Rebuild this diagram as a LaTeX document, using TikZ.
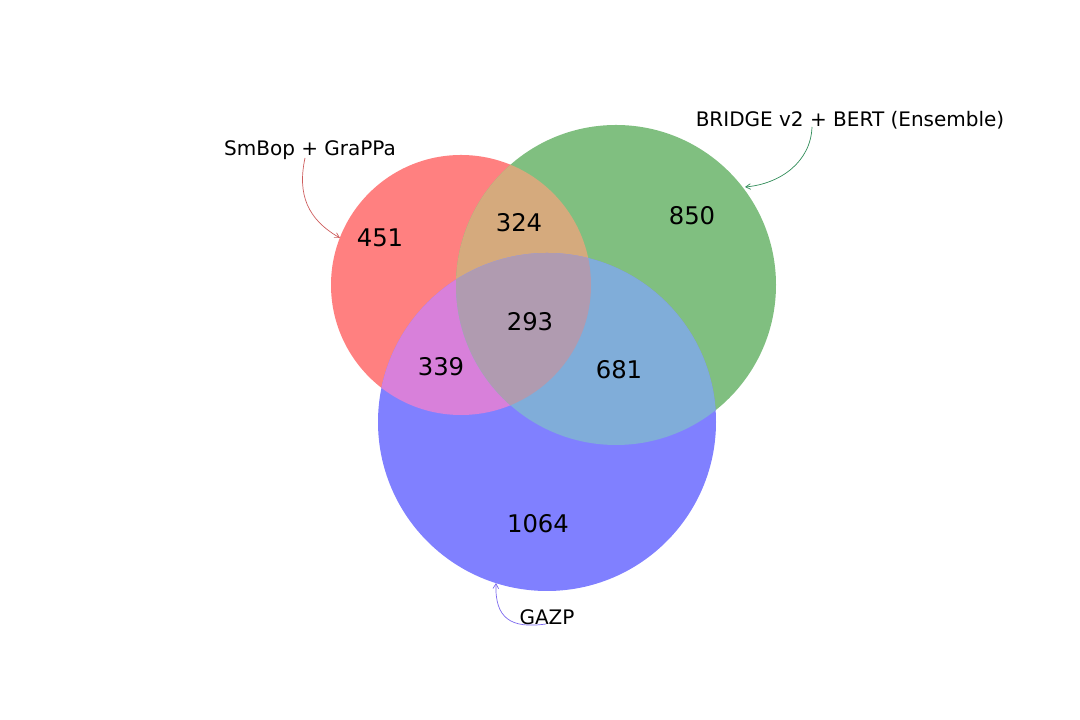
\documentclass[tikz,border=0pt]{standalone}
\usepackage{fontspec}
\setmainfont{DejaVu Sans}
\usetikzlibrary{arrows.meta}
\definecolor{vennR}{RGB}{255,128,128}
\definecolor{vennG}{RGB}{128,191,128}
\definecolor{vennB}{RGB}{128,128,255}
\definecolor{vennRG}{RGB}{213,170,125}
\definecolor{vennRB}{RGB}{216,128,218}
\definecolor{vennGB}{RGB}{128,173,217}
\definecolor{vennRGB}{RGB}{176,155,176}
\definecolor{ptrR}{RGB}{205,92,92}
\definecolor{ptrG}{RGB}{46,139,87}
\definecolor{ptrB}{RGB}{123,104,238}

\begin{document}
\begin{tikzpicture}[x=0.72pt,y=0.72pt,
	count/.style={font=\fontsize{17.5}{20}\selectfont},
	setname/.style={font=\fontsize{14.4}{17}\selectfont},
	pointer/.style={-{Straight Barb[length=3.5pt,width=4pt]},line width=0.5pt}]
	\useasboundingbox (0,0) rectangle (1080,720);

	% set circles
	\def\smbop{(461,435) circle (130)}
	\def\bridge{(616,435) circle (160)}
	\def\gazp{(547,298) circle (169)}

	\fill[vennR] \smbop;
	\fill[vennG] \bridge;
	\fill[vennB] \gazp;
	\begin{scope}
		\clip \smbop;
		\fill[vennRG] \bridge;
		\fill[vennRB] \gazp;
	\end{scope}
	\begin{scope}
		\clip \bridge;
		\fill[vennGB] \gazp;
	\end{scope}
	\begin{scope}
		\clip \smbop;
		\clip \bridge;
		\fill[vennRGB] \gazp;
	\end{scope}

	% region counts
	\node[count] (n100) at (380,482) {451};
	\node[count] (n110) at (519,497) {324};
	\node[count] (n010) at (692,504) {850};
	\node[count] (n111) at (530,398) {293};
	\node[count] (n101) at (441,353) {339};
	\node[count] (n011) at (619,350) {681};
	\node[count] (n001) at (538,196) {1064};

	% set names
	\node[setname] (lblR) at (310,570) {SmBop + GraPPa};
	\node[setname] (lblG) at (850,600) {BRIDGE v2 + BERT (Ensemble)};
	\node[setname] (lblB) at (547,103) {GAZP};

	\coordinate (tailR) at (305,562);
	\coordinate (headR) at (340,482);
	\coordinate (tailG) at (812,593);
	\coordinate (headG) at (745,533);
	\coordinate (tailB) at (546,96);
	\coordinate (headB) at (496,137);

	\draw[pointer,ptrR] (tailR) to[out=258,in=150,looseness=1.1] (headR);
	\draw[pointer,ptrG] (tailG) to[out=268,in=5] (headG);
	\draw[pointer,ptrB] (tailB) to[out=188,in=268,looseness=1.4] (headB);
\end{tikzpicture}
\end{document}
